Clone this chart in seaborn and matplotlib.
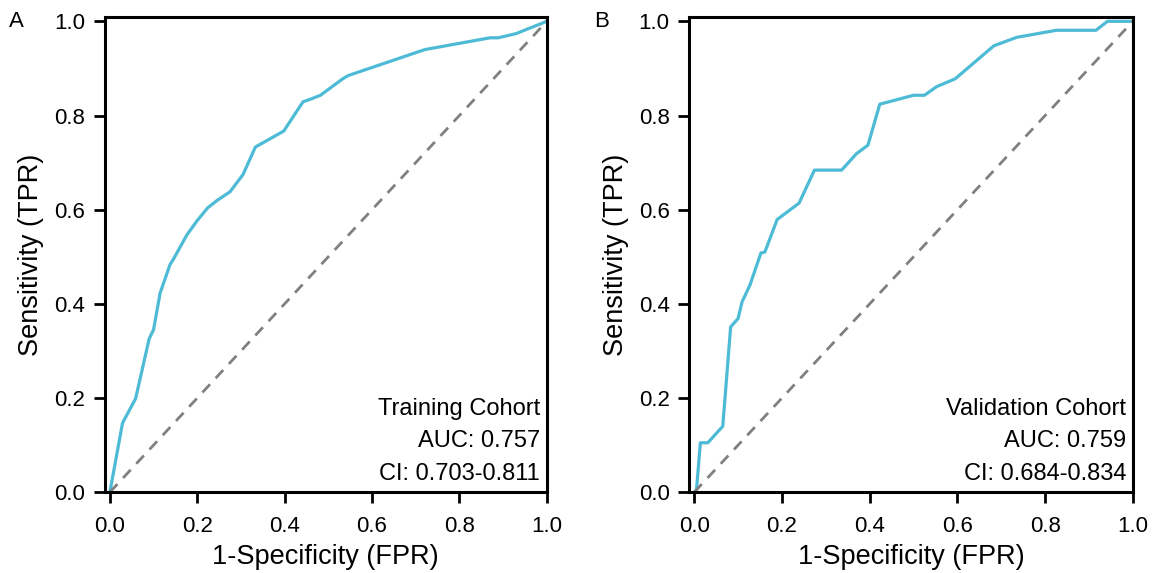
import numpy as np
import pandas as pd
import matplotlib
matplotlib.use("Agg")
import matplotlib.pyplot as plt
import seaborn as sns

# ============================
#       ROC curve points
# ============================
train_fpr = [0.0, 0.029, 0.059, 0.090, 0.100, 0.115, 0.138, 0.145, 0.176, 0.200, 0.224,
             0.246, 0.275, 0.305, 0.333, 0.398, 0.442, 0.463, 0.482, 0.533, 0.546,
             0.721, 0.870, 0.889, 0.930, 1.0]
train_tpr = [0.0, 0.147, 0.199, 0.326, 0.345, 0.423, 0.484, 0.494, 0.546, 0.577, 0.604,
             0.620, 0.638, 0.675, 0.733, 0.767, 0.829, 0.836, 0.843, 0.878, 0.885,
             0.940, 0.965, 0.965, 0.974, 1.0]

valid_fpr = [0.0, 0.005, 0.014, 0.031, 0.065, 0.083, 0.100, 0.109, 0.127, 0.152, 0.161,
             0.189, 0.239, 0.274, 0.336, 0.370, 0.396, 0.423, 0.500, 0.525, 0.552,
             0.595, 0.683, 0.735, 0.826, 0.916, 0.942, 1.0]
valid_tpr = [0.0, 0.004, 0.105, 0.105, 0.140, 0.351, 0.369, 0.404, 0.440, 0.508, 0.510,
             0.579, 0.614, 0.684, 0.684, 0.719, 0.737, 0.824, 0.843, 0.843, 0.861,
             0.878, 0.948, 0.966, 0.981, 0.981, 1.0, 1.0]

cohorts = ["Training Cohort", "Validation Cohort"]
auc_text = ["AUC: 0.757", "AUC: 0.759"]
ci_text = ["CI: 0.703-0.811", "CI: 0.684-0.834"]
panel_tags = ["A", "B"]

# ============================
#       Style
# ============================
sns.set_theme(style="ticks")
plt.rcParams['font.family'] = ['Liberation Sans', 'DejaVu Sans']
plt.rcParams['text.color'] = 'black'
plt.rcParams['axes.labelcolor'] = 'black'
plt.rcParams['xtick.color'] = 'black'
plt.rcParams['ytick.color'] = 'black'
line_color = "#4DBBD5"

fig = plt.figure(figsize=(11.56, 5.73), dpi=100)
ax_a = fig.add_axes([0.0905, 0.141, 0.3825, 0.830])
ax_b = fig.add_axes([0.5960, 0.141, 0.3840, 0.830])

curves = [(train_fpr, train_tpr), (valid_fpr, valid_tpr)]

for i, (ax, (fpr, tpr)) in enumerate(zip([ax_a, ax_b], curves)):
    df = pd.DataFrame({"FPR": fpr, "TPR": tpr})
    sns.lineplot(data=df, x="FPR", y="TPR", ax=ax, color=line_color,
                 linewidth=2.3, sort=False, estimator=None)
    ax.plot([0, 1], [0, 1], color="#808080", linestyle=(0, (4, 3)), linewidth=2.0)

    ticks = np.arange(0, 1.01, 0.2)
    ax.set_xlim(-0.012, 1.0)
    ax.set_ylim(0, 1.01)
    ax.set_xticks(ticks)
    ax.set_yticks(ticks)
    ax.set_xticklabels([f"{v:.1f}" for v in ticks])
    ax.set_yticklabels([f"{v:.1f}" for v in ticks])
    ax.tick_params(axis="both", labelsize=16, width=2, length=8, direction="out")
    ax.tick_params(axis="x", pad=9)
    ax.tick_params(axis="y", pad=6)
    for sp in ax.spines.values():
        sp.set_linewidth(2.2)
        sp.set_color("black")

    ax.set_xlabel("1-Specificity (FPR)", fontsize=19.5, labelpad=5)
    ax.set_ylabel("Sensitivity (TPR)", fontsize=19.5, labelpad=7)

    ax.text(0.985, 0.175, cohorts[i], transform=ax.transAxes, ha="right",
            va="center", fontsize=17)
    ax.text(0.985, 0.107, auc_text[i], transform=ax.transAxes, ha="right",
            va="center", fontsize=17)
    ax.text(0.985, 0.039, ci_text[i], transform=ax.transAxes, ha="right",
            va="center", fontsize=17)

fig.text(0.008, 0.963, panel_tags[0], fontsize=16, va="center")
fig.text(0.514, 0.963, panel_tags[1], fontsize=16, va="center")

fig.savefig("out.png", dpi=100)
